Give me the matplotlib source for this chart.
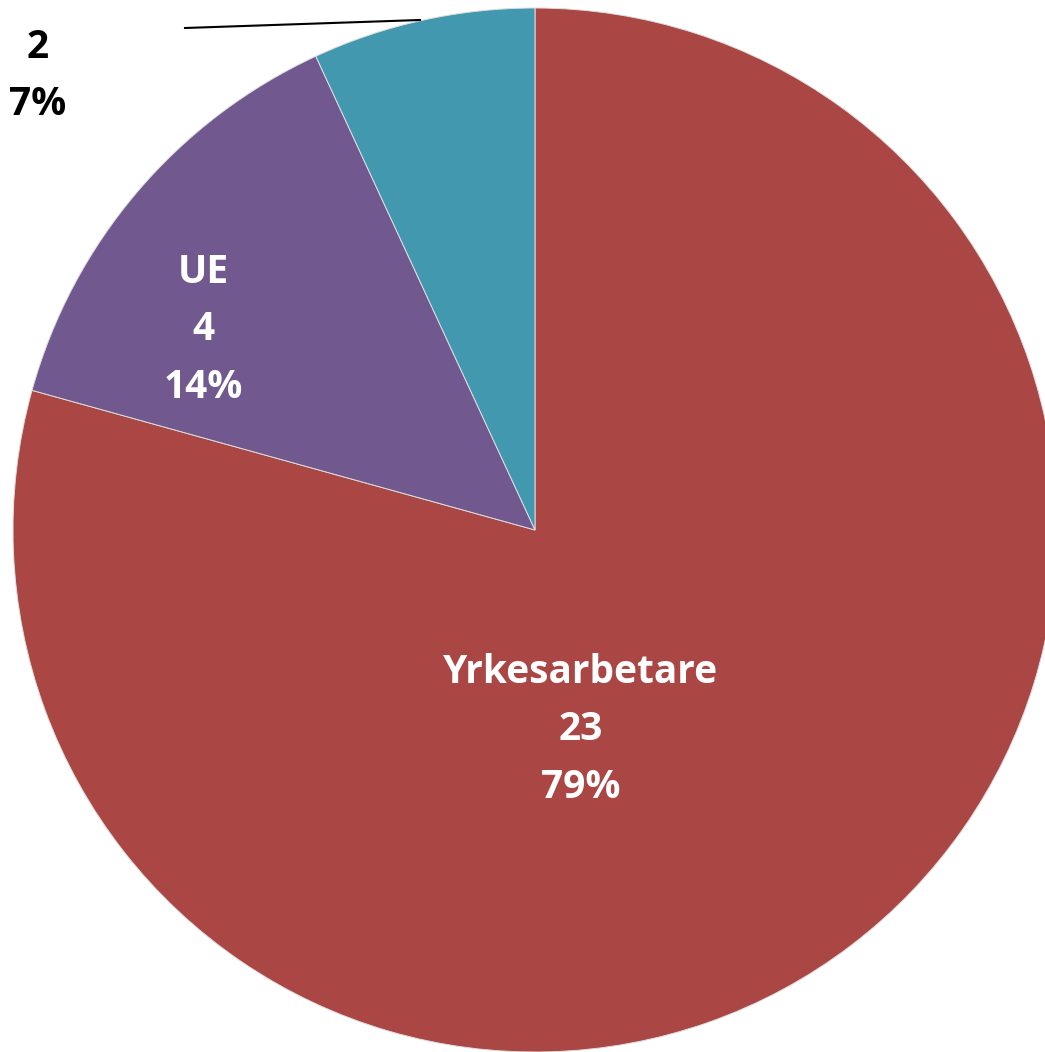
import matplotlib
matplotlib.use("Agg")
import matplotlib.pyplot as plt

categories = ["Yrkesarbetare", "UE", "Tjänstemän"]
values = [23, 4, 2]
colors = ["#AA4643", "#71588F", "#4198AF"]

W, H = 1045, 1052
fig = plt.figure(figsize=(W / 100, H / 100), dpi=100)
ax = fig.add_axes([0, 0, 1, 1])

cx, cy, r = 535, H - 530, 522
ax.pie(values, colors=colors, startangle=90, counterclock=False,
       center=(cx, cy), radius=r, frame=True,
       wedgeprops=dict(linewidth=0.7, edgecolor="#dddddd"))
ax.set_xlim(0, W)
ax.set_ylim(0, H)
ax.set_aspect("equal")
ax.axis("off")

total = sum(values)
labels = [f"{c}\n{v}\n{round(100 * v / total)}%" for c, v in zip(categories, values)]
font = dict(family=["Open Sans", "DejaVu Sans"], fontweight="bold", fontsize=28,
            ha="center", va="center", linespacing=1.62)
ax.text(581, H - 730, labels[0], color="white", **font)
ax.text(203, H - 330, labels[1], color="white", **font)
ax.text(38, H - 47, labels[2], color="black", **font)
ax.plot([420, 185], [H - 20, H - 28], color="black", linewidth=1.5)

fig.savefig("out.png", dpi=100)
